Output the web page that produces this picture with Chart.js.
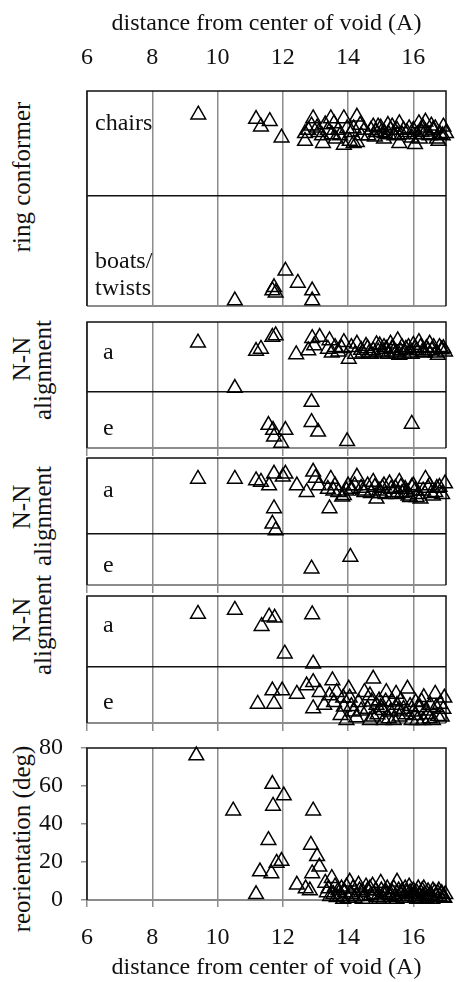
<!DOCTYPE html>
<html><head><meta charset="utf-8">
<script src="https://cdn.jsdelivr.net/npm/chart.js@4/dist/chart.umd.min.js"></script>
<style>
html,body{margin:0;padding:0;background:#fff;}
#wrap{position:relative;width:456px;height:982px;overflow:hidden;background:#fff;}
canvas{position:absolute;left:0;}
.yt{position:absolute;font-family:'Liberation Serif',serif;font-size:25px;color:#111;white-space:nowrap;transform:translate(-50%,-50%) rotate(-90deg);line-height:1;}
</style></head><body>
<div id="wrap">
<div class="yt" style="left:21px;top:177px">ring conformer</div>
<div class="yt" style="left:21px;top:359px">N-N</div>
<div class="yt" style="left:42px;top:370px">alignment</div>
<div class="yt" style="left:21px;top:507px">N-N</div>
<div class="yt" style="left:42px;top:516px">alignment</div>
<div class="yt" style="left:21px;top:620px">N-N</div>
<div class="yt" style="left:42px;top:625px">alignment</div>
<div class="yt" style="left:21px;top:839px">reorientation (deg)</div>
<canvas id="c1" width="456" height="316" style="top:0px"></canvas>
<canvas id="c2" width="456" height="146" style="top:312px"></canvas>
<canvas id="c3" width="456" height="147" style="top:448px"></canvas>
<canvas id="c4" width="456" height="147" style="top:586px"></canvas>
<canvas id="c5" width="456" height="282" style="top:700px"></canvas>
</div>
<script>
// ---- data ----
const xTitle = 'distance from center of void (A)';
const xTickValues = [6, 8, 10, 12, 14, 16];
const reorientTicks = [0, 20, 40, 60, 80];

const conformerLabels = ['chairs', ['boats/', 'twists']];
const alignLabels = ['a', 'e'];

const conformerX = [9.41,11.18,11.33,11.60,11.96,12.68,12.68,12.78,12.93,12.88,13.05,13.20,13.23,13.38,13.47,13.57,13.62,13.50,13.70,13.87,13.97,13.87,14.05,14.27,14.17,14.37,14.17,14.27,14.50,14.62,14.77,14.82,14.92,15.02,15.12,15.22,15.30,15.42,15.52,15.57,15.57,15.70,15.87,15.95,16.05,16.12,16.17,16.25,16.37,16.37,16.50,16.60,16.67,16.72,16.77,16.82,16.92,17.00,
  14.70,14.85,15.00,15.10,15.25,15.35,15.50,15.65,15.80,16.00,16.20,16.30,16.45,16.55,16.90,13.10,13.30,13.75,14.10,14.40,
  10.53,11.68,11.73,11.78,12.08,12.46,12.90,12.90];
const conformerY = [0.74,0.70,0.63,0.68,0.53,0.57,0.50,0.60,0.705,0.64,0.62,0.55,0.48,0.60,0.705,0.66,0.52,0.56,0.60,0.705,0.615,0.465,0.50,0.72,0.615,0.645,0.48,0.49,0.60,0.55,0.63,0.54,0.63,0.58,0.57,0.645,0.60,0.55,0.555,0.66,0.48,0.60,0.615,0.53,0.47,0.56,0.66,0.58,0.675,0.585,0.55,0.60,0.615,0.52,0.50,0.56,0.63,0.57,
  0.60,0.58,0.62,0.52,0.56,0.63,0.60,0.56,0.58,0.60,0.52,0.62,0.56,0.64,0.55,0.58,0.65,0.55,0.58,0.55,
  -0.95,-0.86,-0.83,-0.88,-0.68,-0.79,-0.86,-0.95];

const alignAX = [9.40,10.53,11.18,11.33,11.68,11.78,12.41,12.78,12.90,13.13,12.96,13.43,13.38,13.60,13.70,13.87,14.02,14.27,14.22,14.40,14.55,14.65,14.77,14.87,14.97,15.05,15.17,15.30,15.40,15.52,15.57,15.65,15.77,15.90,16.00,16.10,16.17,16.27,16.40,16.50,16.57,16.70,16.80,16.87,16.97,
  14.45,14.60,14.70,14.92,15.10,15.22,15.35,15.47,15.60,15.72,15.85,15.95,16.05,16.22,16.35,16.45,16.62,16.75,16.92,13.50,13.80,14.10,
  12.88,11.56,11.70,11.73,12.08,11.95,12.88,13.08,13.97,15.95];
const alignAY = [0.88,0.07,0.73,0.77,0.98,1.01,0.67,0.74,0.96,0.98,0.83,0.92,0.77,0.80,0.72,0.89,0.59,0.86,0.68,0.75,0.82,0.70,0.74,0.85,0.83,0.70,0.77,0.86,0.72,0.92,0.66,0.80,0.77,0.70,0.84,0.74,0.89,0.71,0.78,0.86,0.74,0.70,0.80,0.76,0.72,
  0.70,0.78,0.68,0.72,0.80,0.68,0.78,0.70,0.74,0.68,0.80,0.68,0.78,0.80,0.70,0.74,0.80,0.66,0.78,0.70,0.78,0.80,
  -0.18,-0.59,-0.68,-0.80,-0.68,-0.91,-0.54,-0.71,-0.88,-0.57];

const alignBX = [9.40,10.53,11.18,11.33,11.58,11.73,12.08,12.00,11.73,11.68,11.78,12.43,12.73,12.93,13.00,13.10,13.43,13.47,13.38,13.60,13.70,13.82,13.87,14.00,14.10,14.27,14.40,14.50,14.60,14.77,14.87,14.95,15.05,15.15,15.27,15.37,15.45,15.57,15.65,15.75,15.85,15.95,16.05,16.15,16.22,16.37,16.45,16.55,16.67,16.80,16.97,
  14.45,14.70,14.82,15.00,15.10,15.32,15.50,15.62,15.80,15.90,16.00,16.10,16.30,16.50,16.60,16.72,16.88,13.55,13.95,14.20,
  12.88,14.07];
const alignBY = [1.08,1.08,1.05,1.02,0.95,1.18,1.18,1.12,0.50,0.20,0.07,0.95,0.82,1.22,1.10,0.95,0.50,1.08,0.88,0.95,0.82,0.73,0.76,0.95,0.88,1.12,0.90,0.82,0.95,1.02,0.69,0.85,0.90,0.78,0.99,0.82,0.90,1.02,0.80,0.88,0.75,0.92,0.85,0.78,0.69,1.08,0.90,0.80,0.82,0.92,0.99,
  0.85,0.80,0.92,0.80,0.95,0.88,0.78,0.92,0.82,0.72,0.95,0.72,0.85,0.95,0.75,0.90,0.78,0.85,0.85,0.95,
  -0.68,-0.45];

const alignCX = [9.40,10.53,11.58,11.75,11.35,12.06,12.90,12.93,
  11.23,11.68,11.98,11.73,12.43,12.73,12.93,13.13,13.52,13.43,12.93,13.27,13.57,13.87,14.02,14.05,14.32,14.17,14.77,14.67,14.87,14.77,15.17,15.07,15.47,15.50,15.82,15.57,16.07,16.32,16.52,16.67,16.82,16.87,16.07,14.67,13.77,13.65,14.95,15.25,15.35,15.70,15.95,16.20,16.45,16.60,16.95,14.40,14.50,13.95,15.10,16.30,
  14.60,14.72,14.90,15.00,15.15,15.30,15.40,15.55,15.62,15.78,15.90,16.00,16.12,16.25,16.38,16.50,16.70,16.75,16.92,14.25,13.85,14.10];
const alignCY = [0.95,1.02,0.90,0.88,0.73,0.24,0.94,0.06,
  -0.66,-0.42,-0.42,-0.66,-0.48,-0.33,-0.27,-0.45,-0.24,-0.51,-0.74,-0.68,-0.63,-0.71,-0.39,-0.55,-0.63,-0.80,-0.21,-0.51,-0.68,-0.89,-0.45,-0.77,-0.48,-0.68,-0.39,-0.89,-0.63,-0.54,-0.68,-0.48,-0.66,-0.89,-0.86,-0.95,-0.86,-0.45,-0.60,-0.92,-0.62,-0.75,-0.95,-0.72,-0.85,-0.95,-0.55,-0.78,-0.45,-0.95,-0.95,-0.95,
  -0.75,-0.62,-0.85,-0.72,-0.62,-0.80,-0.95,-0.78,-0.60,-0.85,-0.70,-0.80,-0.95,-0.62,-0.78,-0.92,-0.72,-0.88,-0.75,-0.90,-0.55,-0.70];

const reorientX = [9.35,10.48,11.18,11.30,11.56,11.68,11.70,11.65,11.81,11.96,12.03,12.43,12.70,12.83,12.93,12.86,12.90,13.05,13.12,
  13.30,13.35,13.40,13.50,13.55,13.60,13.70,13.75,13.80,13.90,14.00,14.05,14.10,14.15,14.25,14.32,14.40,14.50,14.60,14.67,14.75,14.80,14.90,15.00,15.02,15.08,15.15,15.20,15.30,15.35,15.45,15.50,15.55,15.60,15.70,15.75,15.80,15.87,15.95,16.00,16.05,16.10,16.15,16.20,16.27,16.35,16.40,16.45,16.55,16.60,16.70,16.75,16.80,16.87,16.95,
  13.45,13.65,13.85,13.95,14.20,14.35,14.45,14.55,14.70,14.85,14.95,15.12,15.25,15.40,15.48,15.65,15.78,15.90,16.02,16.12,16.25,16.32,16.48,16.58,16.65,16.78,16.90,16.98];
const reorientY = [76,47,3,15,31.5,61,49.5,14,19.5,20.5,55,8,6,5,47,29,14,23,17.5,
  9,4,6,11.5,3,7,5,2,6,4,1,9.6,3,6,2,8,4,2,5,6,7.5,3,1.5,9,5,0.5,3,6,1.5,4,2,9.6,5,3,1,6,3.5,7,2,5,1,4,6,2,5,3,1,4.5,2.5,5,1.5,3.5,2,3.5,1,
  2,1.5,0.5,7,1,5,0.5,7,2.5,5,0.5,4,2.5,6,0.5,4.5,1,4,3,0.5,1,6,2,0.5,4,5,1.5,3];

// ---- styling ----
const FONT = "'Liberation Serif', 'Times New Roman', serif";
const TXT = '#111';
const GRID = '#8c8c8c';

const framePlugin = {
  id: 'frame',
  beforeDatasetsDraw(chart) {
    const {ctx, chartArea: a} = chart;
    ctx.save();
    ctx.lineWidth = 2;
    ctx.strokeStyle = GRID;
    ctx.beginPath(); ctx.moveTo(a.left, a.bottom); ctx.lineTo(a.right, a.bottom); ctx.stroke();
    ctx.lineWidth = 1.5;
    ctx.strokeStyle = '#111';
    ctx.beginPath();
    ctx.moveTo(a.left, a.bottom); ctx.lineTo(a.left, a.top); ctx.lineTo(a.right, a.top); ctx.lineTo(a.right, a.bottom);
    ctx.stroke();
    ctx.restore();
  }
};

function pts(xs, ys) { return xs.map((x, i) => ({x: x, y: ys[i]})); }

function makePanel(id, cfg) {
  const xScale = {
    type: 'linear', min: 6, max: 17, position: cfg.xPos,
    afterBuildTicks: s => { s.ticks = xTickValues.map(v => ({value: v})); },
    afterFit: s => { s.height = cfg.xHeight; s.paddingLeft = 0; s.paddingRight = 0; },
    grid: {color: GRID, lineWidth: 1.5, drawTicks: cfg.xTickLen > 0, tickLength: cfg.xTickLen},
    border: {display: false},
    ticks: {display: !!cfg.xLabels, padding: cfg.xPad || 0, font: {family: FONT, size: 24}, color: TXT, maxRotation: 0, autoSkip: false},
    title: {display: !!cfg.xTitle, text: xTitle, font: {family: FONT, size: 24}, color: TXT, padding: cfg.xTitlePad || 0}
  };
  let yScale;
  if (cfg.cats) {
    const tickVals = [cfg.catPos[0], 0, cfg.catPos[1]];
    yScale = {
      type: 'linear', min: cfg.yMin, max: cfg.yMax,
      afterBuildTicks: s => { s.ticks = tickVals.map(v => ({value: v})); },
      afterFit: s => { s.width = 87; s.paddingTop = 0; s.paddingBottom = 0; },
      grid: {drawTicks: false, lineWidth: 1.5, color: c => (c.tick && c.tick.value === 0) ? '#111' : 'rgba(0,0,0,0)'},
      border: {display: false},
      ticks: {mirror: true, padding: cfg.catPad, autoSkip: false, font: {family: FONT, size: 24, lineHeight: 1.13}, color: TXT,
        callback: v => v === cfg.catPos[0] ? cfg.cats[0] : (v === cfg.catPos[1] ? cfg.cats[1] : '')}
    };
  } else {
    yScale = {
      type: 'linear', min: 0, max: 80,
      afterBuildTicks: s => { s.ticks = reorientTicks.map(v => ({value: v})); },
      afterFit: s => { s.width = 87; s.paddingTop = 0; s.paddingBottom = 0; },
      grid: {drawOnChartArea: false, drawTicks: true, tickLength: 6, color: GRID, lineWidth: 1.5},
      border: {display: false},
      ticks: {padding: 18, font: {family: FONT, size: 24}, color: TXT, autoSkip: false}
    };
  }
  return new Chart(document.getElementById(id), {
    type: 'scatter',
    data: {datasets: [{data: pts(cfg.xs, cfg.ys), pointStyle: 'triangle', pointRadius: 8.5, pointHoverRadius: 8.5,
      borderColor: '#000', backgroundColor: 'rgba(0,0,0,0)', borderWidth: 1.5, clip: false}]},
    options: {
      responsive: false, animation: false, events: [],
      layout: {padding: {left: 0, right: 2, top: cfg.padTop || 0, bottom: cfg.padBottom || 0}},
      plugins: {legend: {display: false}, tooltip: {enabled: false}},
      scales: {x: xScale, y: yScale}
    },
    plugins: [framePlugin]
  });
}

makePanel('c1', {xs: conformerX, ys: conformerY, xPos: 'top', xHeight: 91, xTickLen: 0, xLabels: true, xPad: 18.6, xTitle: true, xTitlePad: {top: 9.6},
  padBottom: 8, cats: conformerLabels, catPos: [0.66, -0.716], catPad: 8, yMin: -1, yMax: 0.955});
makePanel('c2', {xs: alignAX, ys: alignAY, xPos: 'bottom', xHeight: 10, xTickLen: 8, padTop: 10,
  cats: alignLabels, catPos: [0.71, -0.66], catPad: 16, yMin: -1, yMax: 1.25});
makePanel('c3', {xs: alignBX, ys: alignBY, xPos: 'bottom', xHeight: 10, xTickLen: 8, padTop: 10,
  cats: alignLabels, catPos: [0.85, -0.62], catPad: 16, yMin: -1, yMax: 1.49});
makePanel('c4', {xs: alignCX, ys: alignCY, xPos: 'bottom', xHeight: 10, xTickLen: 8, padTop: 10,
  cats: alignLabels, catPos: [0.74, -0.63], catPad: 16, yMin: -1, yMax: 1.27});
makePanel('c5', {xs: reorientX, ys: reorientY, xPos: 'bottom', xHeight: 82, xTickLen: 7, xLabels: true, xPad: 16.6, xTitle: true, xTitlePad: {bottom: 0},
  padTop: 48});
</script>
</body></html>
